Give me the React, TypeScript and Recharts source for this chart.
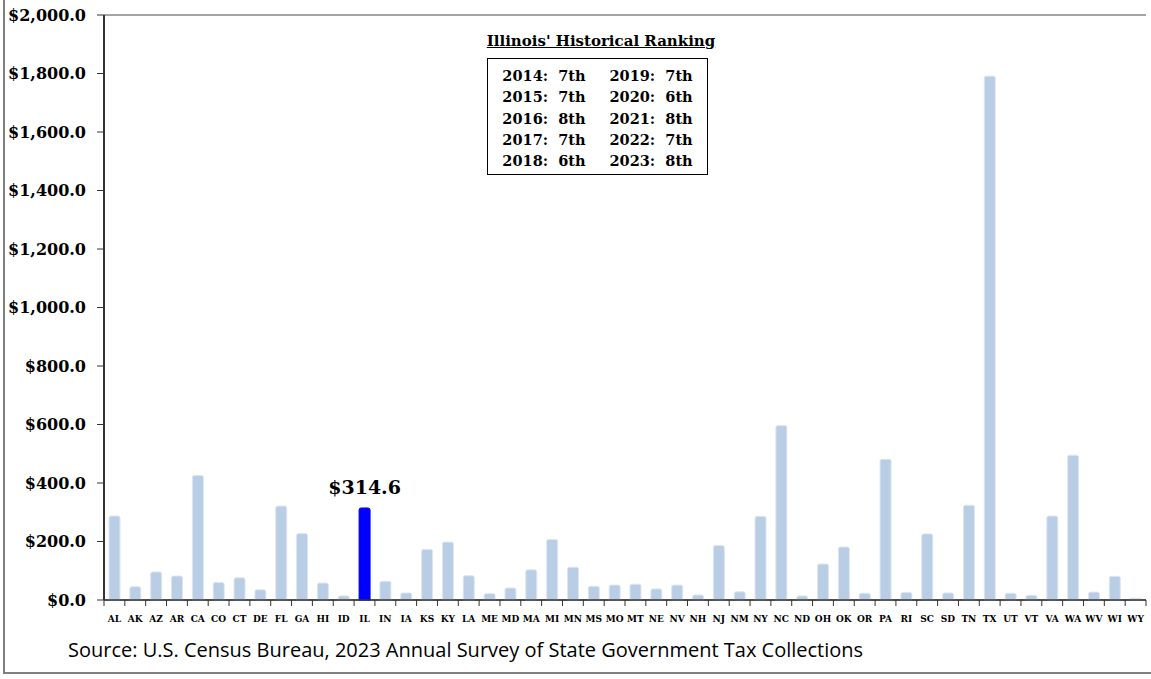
import React from 'react';
import { BarChart, Bar, XAxis, YAxis, CartesianGrid, Cell, LabelList } from 'recharts';

// state abbreviations, in the order shown on the axis
const states = [
  'AL', 'AK', 'AZ', 'AR', 'CA', 'CO', 'CT', 'DE', 'FL', 'GA',
  'HI', 'ID', 'IL', 'IN', 'IA', 'KS', 'KY', 'LA', 'ME', 'MD',
  'MA', 'MI', 'MN', 'MS', 'MO', 'MT', 'NE', 'NV', 'NH', 'NJ',
  'NM', 'NY', 'NC', 'ND', 'OH', 'OK', 'OR', 'PA', 'RI', 'SC',
  'SD', 'TN', 'TX', 'UT', 'VT', 'VA', 'WA', 'WV', 'WI', 'WY',
];

// collections, millions of dollars
const amounts = [
  287, 45, 96, 82, 426, 60, 76, 35, 321, 227,
  58, 14, 314.6, 64, 24, 173, 198, 83, 22, 41,
  103, 207, 112, 47, 51, 54, 38, 51, 17, 186,
  28, 286, 596, 14, 123, 181, 23, 481, 26, 226,
  24, 324, 1791, 23, 16, 287, 495, 27, 81, 6,
];

const highlightState = 'IL';

const yTicks = [0, 200, 400, 600, 800, 1000, 1200, 1400, 1600, 1800, 2000];

const rankingTitle = "Illinois' Historical Ranking";
const rankingYears = [2014, 2015, 2016, 2017, 2018, 2019, 2020, 2021, 2022, 2023];
const rankingPlaces = ['7th', '7th', '8th', '7th', '6th', '7th', '6th', '8th', '7th', '8th'];

const sourceNote = 'Source: U.S. Census Bureau, 2023 Annual Survey of State Government Tax Collections';

const SERIF = "'DejaVu Serif', 'Liberation Serif', serif";

const chartData = states.map((s, i) => ({ state: s, value: amounts[i] }));

const fmtMoney = (v: number) =>
  '$' + v.toLocaleString('en-US', { minimumFractionDigits: 1, maximumFractionDigits: 1 });

// category tick: label at the center, tick marks on the band edges (Excel style)
const StateTick = (props: any) => {
  const { x, y, payload, index } = props;
  const half = payload && payload.offset ? payload.offset : 10.42;
  return (
    <g>
      {index === 0 && <line x1={x - half} x2={x - half} y1={y - 8} y2={y - 2} stroke="#333" />}
      <line x1={x + half} x2={x + half} y1={y - 8} y2={y - 2} stroke="#333" />
      <text
        x={x}
        y={y + 14}
        textAnchor="middle"
        fontFamily="'DejaVu Serif Condensed', 'DejaVu Serif', serif"
        fontWeight="bold"
        fontSize={10}
        fill="#000"
      >
        {payload.value}
      </text>
    </g>
  );
};

const HighlightLabel = (props: any) => {
  const { x, y, width, value, index } = props;
  if (states[index] !== highlightState) return null;
  return (
    <text x={x + width / 2} y={y - 14} textAnchor="middle" fontFamily={SERIF} fontWeight="bold" fontSize={19} fill="#000">
      {fmtMoney(value)}
    </text>
  );
};

const App = () => {
  const half = rankingYears.length / 2;
  return (
    <div style={{ position: 'absolute', left: 0, top: 0, width: 1151, height: 679, overflow: 'hidden', background: '#fff' }}>
      {/* outer frame, runs past the top and right edges */}
      <div style={{ position: 'absolute', left: 3, top: -20, width: 1200, height: 694, border: '2px solid #7f7f7f', boxSizing: 'border-box' }} />

      <BarChart
        width={1151}
        height={679}
        data={chartData}
        margin={{ top: 15, right: 5, bottom: 29, left: 0 }}
        barCategoryGap="24%"
        style={{ position: 'absolute', left: 0, top: 0 }}
      >
        <CartesianGrid vertical={false} stroke="#4a4a4a" strokeWidth={1} />
        <XAxis
          dataKey="state"
          interval={0}
          height={50}
          tickLine={false}
          axisLine={{ stroke: '#333', strokeWidth: 1.5 }}
          tick={<StateTick />}
        />
        <YAxis
          yAxisId="left"
          width={104}
          domain={[0, 2000]}
          ticks={yTicks}
          tickFormatter={fmtMoney}
          tickSize={7}
          tickMargin={11}
          axisLine={{ stroke: '#333', strokeWidth: 2 }}
          tickLine={{ stroke: '#333' }}
          tick={{ fontFamily: SERIF, fontWeight: 'bold', fontSize: 16, fill: '#000' }}
        />
        <YAxis
          yAxisId="right"
          orientation="right"
          width={0}
          domain={[0, 2000]}
          tick={false}
          tickLine={false}
          axisLine={{ stroke: '#8c8c8c', strokeWidth: 2 }}
        />
        <Bar
          yAxisId="left"
          dataKey="value"
          isAnimationActive={false}
          stroke="#dce6f2"
          strokeWidth={1}
          radius={[2, 2, 0, 0]}
        >
          {chartData.map((d) => (
            <Cell key={d.state} fill={d.state === highlightState ? '#0000ff' : '#b9cde5'} stroke={d.state === highlightState ? '#0000ff' : '#dce6f2'} />
          ))}
          <LabelList dataKey="value" content={<HighlightLabel />} />
        </Bar>
      </BarChart>

      {/* ranking callout */}
      <div
        style={{
          position: 'absolute', left: 440, top: 31, width: 322, textAlign: 'center',
          fontFamily: SERIF, fontWeight: 'bold', fontSize: 15, textDecoration: 'underline', lineHeight: '20px',
        }}
      >
        {rankingTitle}
      </div>
      <div
        style={{
          position: 'absolute', left: 487, top: 58, width: 221, height: 117, boxSizing: 'border-box',
          border: '1.5px solid #000', background: '#fff', display: 'flex', justifyContent: 'center', gap: 24,
          fontFamily: SERIF, fontWeight: 'bold', fontSize: 14.5, paddingTop: 6,
        }}
      >
        {[0, 1].map((col) => (
          <div key={col}>
            {rankingYears.slice(col * half, col * half + half).map((yr, i) => (
              <div key={yr} style={{ lineHeight: '21.3px', whiteSpace: 'pre' }}>
                {`${yr}:  ${rankingPlaces[col * half + i]}`}
              </div>
            ))}
          </div>
        ))}
      </div>

      <div
        style={{
          position: 'absolute', left: 68, top: 636, whiteSpace: 'nowrap',
          fontFamily: "'Open Sans', sans-serif", fontSize: 20, color: '#000',
        }}
      >
        {sourceNote}
      </div>
    </div>
  );
};

export default App;
